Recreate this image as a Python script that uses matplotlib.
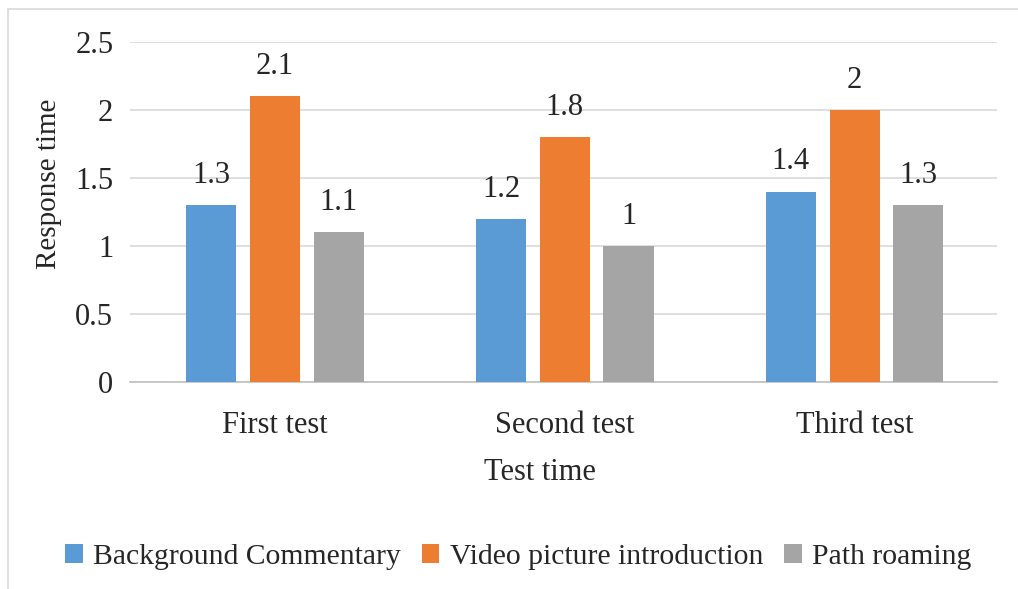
import matplotlib.pyplot as plt
from matplotlib.patches import Rectangle
import numpy as np

# data
tests = ['First test', 'Second test', 'Third test']
series_names = ['Background Commentary', 'Video picture introduction', 'Path roaming']
background = [1.3, 1.2, 1.4]
video = [2.1, 1.8, 2.0]
path_roam = [1.1, 1.0, 1.3]
colors = ['#5B9BD5', '#ED7D31', '#A5A5A5']

plt.rcParams['font.family'] = ['Liberation Serif', 'DejaVu Serif']
fs = 22

fig = plt.figure(figsize=(10.18, 5.89), dpi=100)
ax = fig.add_axes([0.1277, 0.3514, 0.8513, 0.5773])

x = np.arange(len(tests))
width = 0.173
offsets = [-0.22, 0.0, 0.22]
for vals, name, col, off in zip([background, video, path_roam], series_names, colors, offsets):
    bars = ax.bar(x + off, vals, width, color=col, label=name, zorder=3)
    for b, v in zip(bars, vals):
        ax.annotate(f'{v:g}', (b.get_x() + b.get_width() / 2, v),
                    xytext=(0, 11), textcoords='offset points',
                    ha='center', va='bottom', fontsize=fs, color='#262626')

ax.set_xlim(-0.5, 2.49)
ax.set_ylim(0, 2.5)
ax.set_yticks(np.arange(0, 2.51, 0.5))
ax.set_yticklabels(['0', '0.5', '1', '1.5', '2', '2.5'])
ax.set_xticks(x)
ax.set_xticklabels(tests)
ax.tick_params(axis='y', length=0, pad=12, labelsize=fs, labelcolor='#262626')
ax.tick_params(axis='x', length=0, pad=21, labelsize=fs, labelcolor='#262626')
ax.grid(axis='y', color='#D9D9D9', linewidth=1.2, zorder=0)
for s in ['top', 'right', 'left']:
    ax.spines[s].set_visible(False)
ax.spines['bottom'].set_color('#BFBFBF')
ax.spines['bottom'].set_linewidth(1.2)

ax.set_ylabel('Response time', fontsize=21, color='#262626')
ax.yaxis.set_label_coords(-0.078, 0.582)
ax.set_xlabel('Test time', fontsize=fs, color='#262626')
ax.xaxis.set_label_coords(0.473, -0.222)

fig.legend(loc='center', bbox_to_anchor=(0.509, 1 - 557 / 589), ncol=3, frameon=False,
           fontsize=21.3, handlelength=0.6, handleheight=0.6, handletextpad=0.35,
           columnspacing=0.7, labelcolor='#262626')

# chart border (cropped on right and bottom)
fig.add_artist(Rectangle((8 / 1018, -0.1), 1.2, 1 - 9 / 589 + 0.1,
                         transform=fig.transFigure, fill=False,
                         edgecolor='#D9D9D9', linewidth=1.2))

fig.savefig('out.png', dpi=100)
